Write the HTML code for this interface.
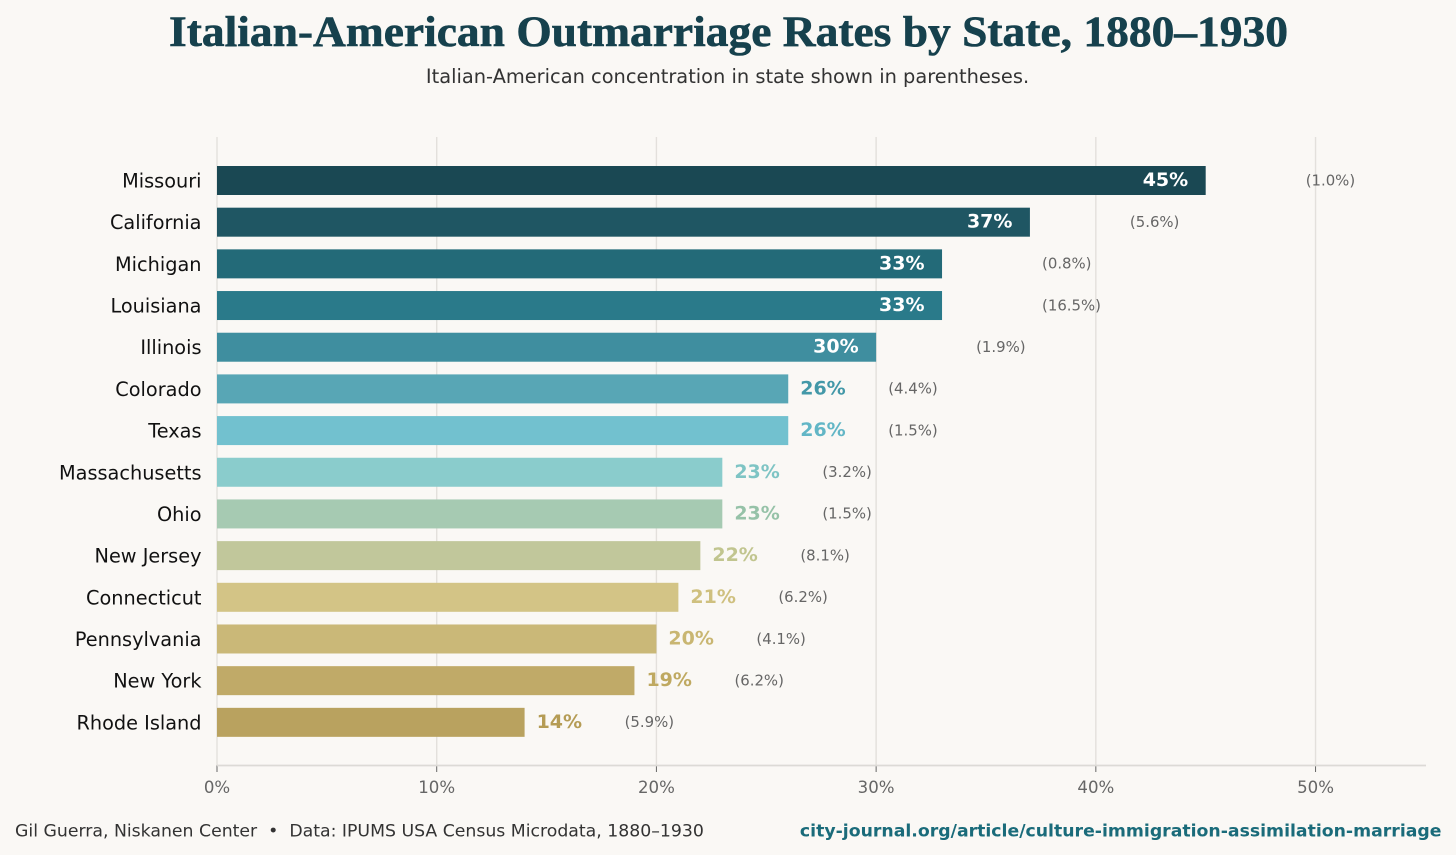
<!DOCTYPE html>
<html lang="en">
<head>
<meta charset="utf-8">
<title>Italian-American Outmarriage Rates by State, 1880–1930</title>
<style>
html,body{margin:0;padding:0;background:#faf8f5;}
svg{display:block;}
text{font-family:"DejaVu Sans",sans-serif;white-space:pre;}
</style>
</head>
<body>
<svg id="chart" xmlns="http://www.w3.org/2000/svg" width="1456" height="855" viewBox="0 0 1456 855">
<rect x="0" y="0" width="1456" height="855" fill="#faf8f5"/>
<text x="728.5" y="46" text-anchor="middle" textLength="1119" lengthAdjust="spacingAndGlyphs" style="font-family:'Liberation Serif',serif;font-weight:700;font-size:43px" fill="#16414d" stroke="#16414d" stroke-width="0.6">Italian-American Outmarriage Rates by State, 1880–1930</text>
<text x="727.5" y="83" text-anchor="middle" font-size="19.4" fill="#333333">Italian-American concentration in state shown in parentheses.</text>
<g id="grid"></g>
<g id="bars"></g>
<g id="axis"></g>
<text x="15" y="836.3" font-size="17.3" fill="#333333">Gil Guerra, Niskanen Center  •  Data: IPUMS USA Census Microdata, 1880–1930</text>
<text x="1441.5" y="836.3" text-anchor="end" font-size="17.3" font-weight="700" fill="#1a6b7a">city-journal.org/article/culture-immigration-assimilation-marriage</text>
</svg>
<script>
const states = ["Missouri","California","Michigan","Louisiana","Illinois","Colorado","Texas","Massachusetts","Ohio","New Jersey","Connecticut","Pennsylvania","New York","Rhode Island"];
const rates = [45,37,33,33,30,26,26,23,23,22,21,20,19,14];
const concentrations = [1.0,5.6,0.8,16.5,1.9,4.4,1.5,3.2,1.5,8.1,6.2,4.1,6.2,5.9];
const barColors = ["#1a4853","#1f5663","#236a78","#2a7a8a","#3f8e9f","#58a6b5","#72c1cf","#8accCC","#a6cab2","#c1c79b","#d3c486","#cab878","#c0aa68","#b9a25f"];
const valueColors = ["#ffffff","#ffffff","#ffffff","#ffffff","#ffffff","#4398a8","#62b6c6","#7ec4c4","#96c2a8","#c1c58f","#cfc07f","#c9b672","#bfa961","#b59c55"];
const xTicks = [0,10,20,30,40,50];

const NS = "http://www.w3.org/2000/svg";
const xMin = 0, xMax = 55;
const plotLeft = 217, plotRight = 1425.4, plotTop = 137, plotBottom = 765.5;
const firstBarCenter = 180.5, barStep = 41.68, barHeight = 29;

function xScale(v){ return plotLeft + (v - xMin) * (plotRight - plotLeft) / (xMax - xMin); }
function yScale(i){ return firstBarCenter + i * barStep; }

function make(parent, tag, attrs, content){
  const el = document.createElementNS(NS, tag);
  for (const k in attrs) el.setAttribute(k, attrs[k]);
  if (content !== undefined) el.textContent = content;
  parent.appendChild(el);
  return el;
}

const grid = document.getElementById("grid");
const bars = document.getElementById("bars");
const axis = document.getElementById("axis");

xTicks.forEach(function(t){
  const x = xScale(t);
  const line = make(grid, "line", {x1:x, x2:x, y1:plotTop, y2:plotBottom, stroke:"#e3e0dc", "stroke-width":1.4});
  
  
  const tick = make(axis, "line", {x1:x, x2:x, y1:plotBottom, y2:plotBottom + 6.5, stroke:"#666666", "stroke-width":1});
  
  
  const label = make(axis, "text", {x:x, y:793, "text-anchor":"middle", "font-size":16.6, fill:"#666666"}, t + "%");
  
  
});

const baseline = make(axis, "line", {x1:plotLeft, x2:plotRight + 0.6, y1:plotBottom, y2:plotBottom, stroke:"#dcdad6", "stroke-width":1.8});



states.forEach(function(state, i){
  const y = yScale(i);
  const end = xScale(rates[i]);
  const stateLabel = make(bars, "text", {x:201.5, y:y + 7, "text-anchor":"end", "font-size":19.3, fill:"#111111"}, state);
  
  
  const bar = make(bars, "rect", {x:plotLeft, y:y - barHeight / 2, width:end - plotLeft, height:barHeight, fill:barColors[i]});
  
  
  const inside = rates[i] >= 30;
  const value = make(bars, "text", {
    x: inside ? end - 17.5 : end + 12,
    y: y + 5.5,
    "text-anchor": inside ? "end" : "start",
    "font-size": 19,
    "font-weight": 700,
    fill: valueColors[i]
  }, rates[i] + "%");
  
  
  const conc = make(bars, "text", {x:end + 100, y:y + 4.8, "font-size":14.9, fill:"#666666"}, "(" + concentrations[i].toFixed(1) + "%)");
  
  
});
</script>
</body>
</html>
